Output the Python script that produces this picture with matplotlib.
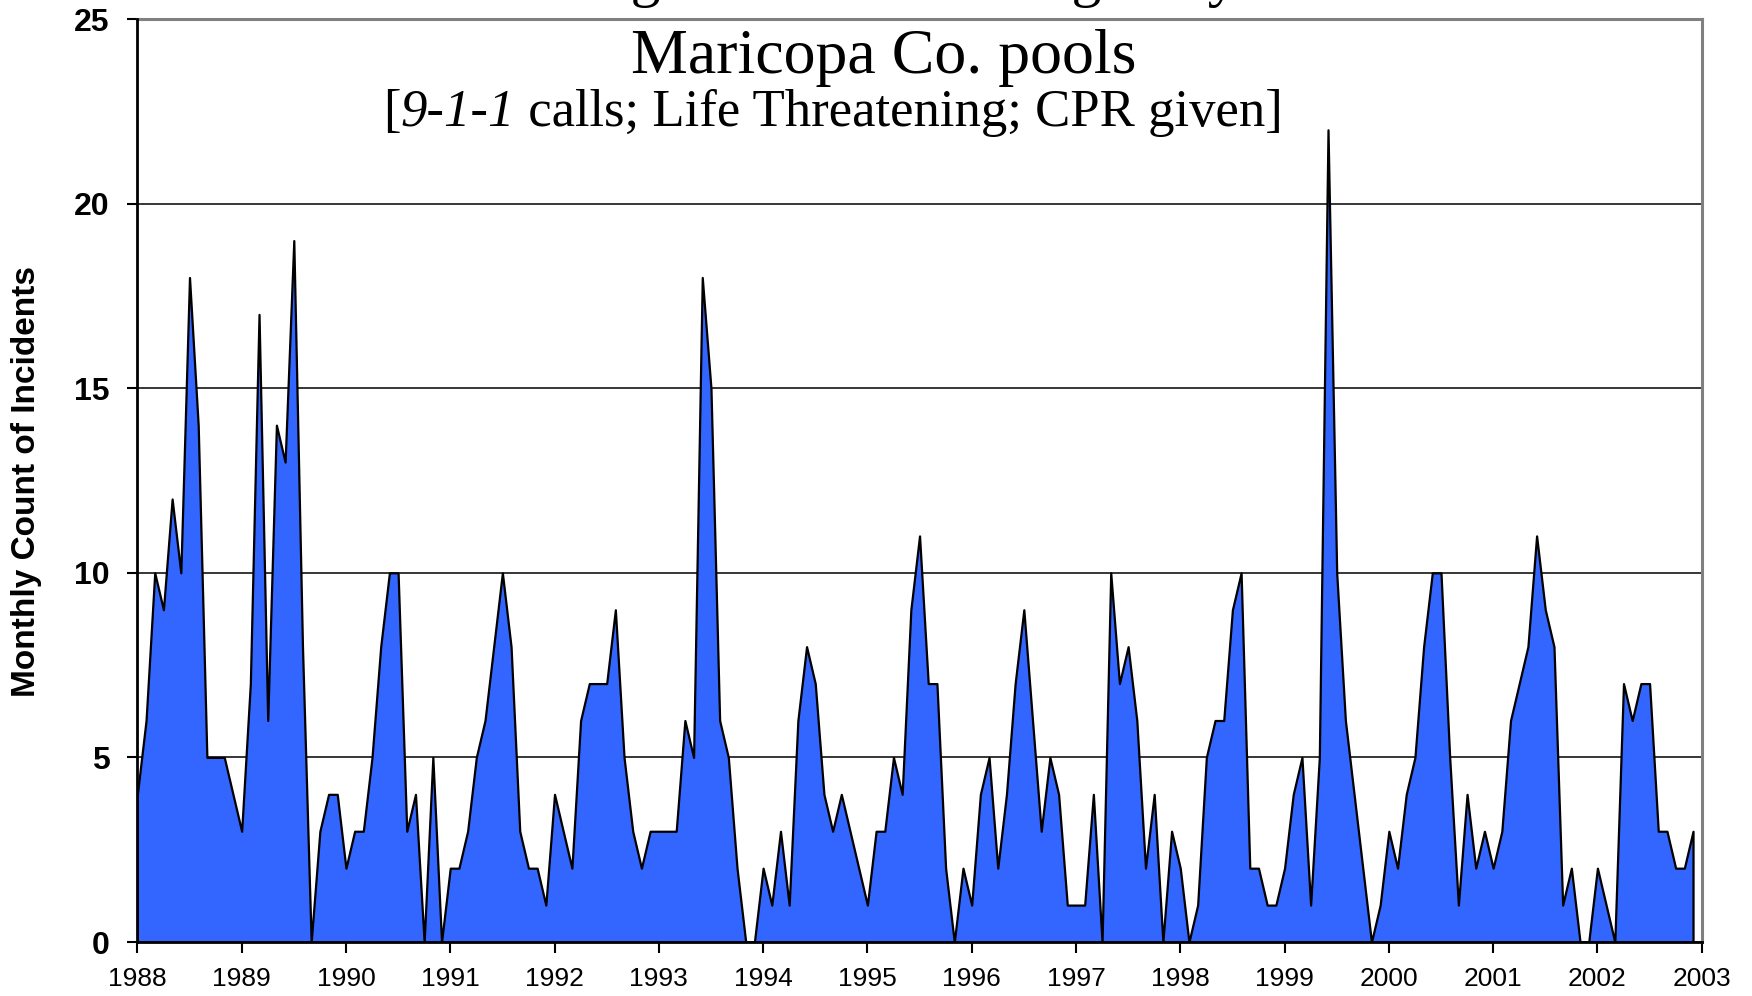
"""Monthly drowning incidents in Maricopa Co. pools, 1988-2002 (area chart)."""

import numpy as np
import matplotlib

matplotlib.use("Agg")
import matplotlib.pyplot as plt  # noqa: E402

# monthly counts, Jan..Dec
counts_1988 = [4, 6, 10, 9, 12, 10, 18, 14, 5, 5, 5, 4]
counts_1989 = [3, 7, 17, 6, 14, 13, 19, 8, 0, 3, 4, 4]
counts_1990 = [2, 3, 3, 5, 8, 10, 10, 3, 4, 0, 5, 0]
counts_1991 = [2, 2, 3, 5, 6, 8, 10, 8, 3, 2, 2, 1]
counts_1992 = [4, 3, 2, 6, 7, 7, 7, 9, 5, 3, 2, 3]
counts_1993 = [3, 3, 3, 6, 5, 18, 15, 6, 5, 2, 0, 0]
counts_1994 = [2, 1, 3, 1, 6, 8, 7, 4, 3, 4, 3, 2]
counts_1995 = [1, 3, 3, 5, 4, 9, 11, 7, 7, 2, 0, 2]
counts_1996 = [1, 4, 5, 2, 4, 7, 9, 6, 3, 5, 4, 1]
counts_1997 = [1, 1, 4, 0, 10, 7, 8, 6, 2, 4, 0, 3]
counts_1998 = [2, 0, 1, 5, 6, 6, 9, 10, 2, 2, 1, 1]
counts_1999 = [2, 4, 5, 1, 5, 22, 10, 6, 4, 2, 0, 1]
counts_2000 = [3, 2, 4, 5, 8, 10, 10, 5, 1, 4, 2, 3]
counts_2001 = [2, 3, 6, 7, 8, 11, 9, 8, 1, 2, 0, 0]
counts_2002 = [2, 1, 0, 7, 6, 7, 7, 3, 3, 2, 2, 3]

years = list(range(1988, 2003))
year_ticks = list(range(1988, 2004))
y_ticks = [0, 5, 10, 15, 20, 25]

yearly = [counts_1988, counts_1989, counts_1990, counts_1991, counts_1992,
          counts_1993, counts_1994, counts_1995, counts_1996, counts_1997,
          counts_1998, counts_1999, counts_2000, counts_2001, counts_2002]
vals = np.concatenate(yearly)
x = np.array([yr + m / 12 for yr, row in zip(years, yearly) for m in range(len(row))])

SANS = "Liberation Sans"
SERIF = "Liberation Serif"

fig = plt.figure(figsize=(17.52, 9.96), dpi=100)
ax = fig.add_axes([0.0784, 0.0542, 0.8929, 0.9267])

ax.fill_between(x, vals, 0, facecolor="#3366FF", edgecolor="black",
                linewidth=1.6, zorder=3)

ax.set_xlim(1988, 2003)
ax.set_ylim(0, 25)
ax.set_xticks(year_ticks)
ax.set_xticklabels([str(t) for t in year_ticks], fontsize=19, family=SANS)
ax.set_yticks(y_ticks)
ax.set_yticklabels([str(t) for t in y_ticks], fontsize=23, family=SANS,
                   fontweight="bold")
ax.tick_params(axis="x", direction="out", length=8, width=1.5, pad=10)
ax.tick_params(axis="y", direction="out", length=7, width=1.5, pad=13)

ax.set_axisbelow(True)
ax.yaxis.grid(True, color="black", linewidth=1.1, zorder=0)
for side in ("left", "bottom"):
    ax.spines[side].set_color("black")
    ax.spines[side].set_linewidth(2)
    ax.spines[side].set_zorder(4)
for side in ("top", "right"):
    ax.spines[side].set_color("#808080")
    ax.spines[side].set_linewidth(2.2)

fig.text(27 / 1752, 1 - 481 / 996, "Monthly Count of Incidents", rotation=90,
         ha="center", va="center", fontsize=24, fontweight="bold", family=SANS)

# title block; the first line sits mostly above the top edge, as in the source
fig.text(418 / 1752, 1 + 5 / 996, "Drowning & Near-drowning Tally", ha="left",
         va="baseline", fontsize=43, family=SERIF)
fig.text(631 / 1752, 1 - 73 / 996, "Maricopa Co. pools", ha="left",
         va="baseline", fontsize=46, family=SERIF)
t1 = fig.text(383 / 1752, 1 - 126 / 996, "[", ha="left", va="baseline",
              fontsize=38, family=SERIF)
t2 = ax.annotate("9-1-1", xy=(1, 0), xycoords=t1, va="bottom", ha="left",
                 fontsize=38, family=SERIF, style="italic",
                 annotation_clip=False)
ax.annotate(" calls; Life Threatening; CPR given]", xy=(1, 0), xycoords=t2,
            va="bottom", ha="left", fontsize=38, family=SERIF,
            annotation_clip=False)

fig.savefig("out.png", dpi=100)
